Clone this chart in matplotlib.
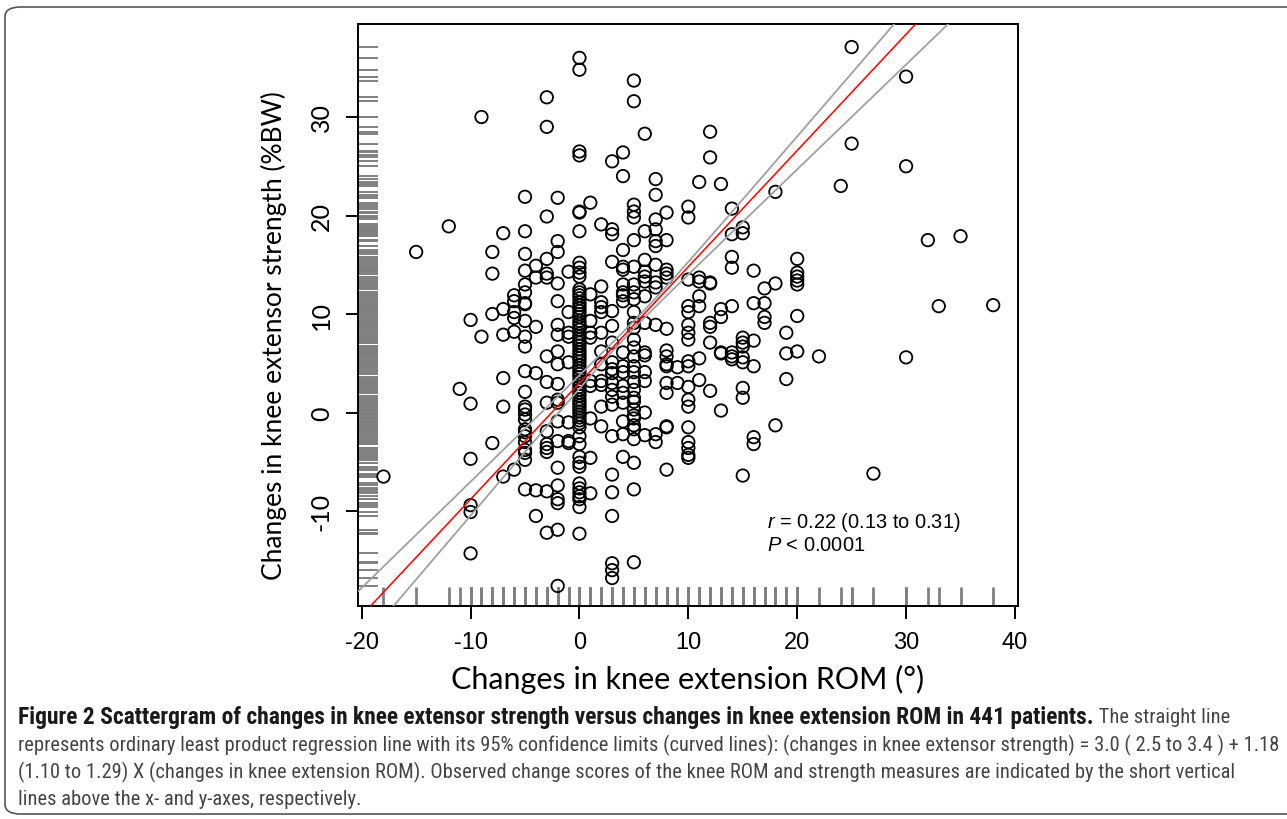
import matplotlib
matplotlib.use("Agg")
import matplotlib.pyplot as plt
import numpy as np
from matplotlib.patches import FancyBboxPatch
from matplotlib import font_manager

plt.rcParams["axes.unicode_minus"] = False
plt.rcParams["mathtext.fontset"] = "custom"
plt.rcParams["mathtext.it"] = "Liberation Sans:italic"
plt.rcParams["mathtext.rm"] = "Liberation Sans"

# knee strength change (%BW) read per knee ROM change column (deg)
s_m18 = [-6.5]
s_m15 = [16.3]
s_m12 = [18.9]
s_m11 = [2.4]
s_m10 = [9.4, 0.9, -4.7, -9.4, -10.1, -14.3]
s_m9 = [30.0, 7.7]
s_m8 = [16.3, 14.1, 10.0, -3.1]
s_m7 = [18.2, 10.5, 7.9, 3.5, 0.6, -6.5]
s_m6 = [11.9, 11.3, 10.2, 9.6, 8.2, -5.8]
s_m5 = [21.9, 18.4, 16.1, 14.4, 13.0, 12.2, 11.0, 11.1, 9.3, 7.7, 6.7, 4.2, 2.1,
        0.6, 0.3, -0.2, -0.7, -1.7, -2.0, -2.4, -3.0, -3.8, -4.1, -4.8, -7.8]
s_m4 = [14.9, 13.7, 8.7, 4.0, -7.9, -10.5]
s_m3 = [32.0, 29.0, 19.9, 15.6, 14.1, 13.7, 5.7, 3.1, 1.0, -1.9, -3.2, -3.6, -4.0,
        -8.0, -12.2]
s_m2 = [21.8, 17.4, 16.3, 13.1, 11.3, 8.9, 7.9, 6.2, 4.9, 2.9, 1.3, 1.0, -0.9, -2.9,
        -5.6, -7.4, -8.8, -9.2, -11.9, -17.6]
s_m1 = [14.3, 10.2, 8.1, 7.7, 5.1, -1.0, -2.9, -3.1]
s_0 = [36.0, 34.8, 26.5, 26.1, 20.4, 20.3, 18.4, 15.2, 14.7, 14.2, 13.8,
       12.5, 12.2, 11.9, 11.6, 11.2, 10.9, 10.6, 10.3, 10.0, 9.7, 9.3, 9.0, 8.7,
       8.4, 8.0, 7.7, 7.4, 7.1, 6.8, 6.4, 6.1, 5.8, 5.5, 5.2, 4.8, 4.5, 4.2, 3.9,
       3.6, 3.2, 2.9, 2.6, 2.3, 2.0, 1.7, 1.3, 1.0, 0.7, 0.4, 0.1, -0.2, -0.5,
       -0.8, -1.1, -1.5,
       -2.4, -3.2, -4.5, -5.1, -5.5, -7.2, -7.7, -8.1, -8.5, -8.8, -9.6, -12.3]
s_1 = [21.3, 12.0, 9.3, 8.1, 7.6, 3.2, 2.7, -0.6, -4.6, -8.2]
s_2 = [19.1, 12.8, 11.2, 10.7, 10.2, 8.1, 6.2, 4.9, 3.2, 2.8, 0.6, -1.4]
s_3 = [25.5, 18.6, 18.1, 15.3, 10.3, 8.8, 7.1, 5.1, 4.4, 4.0, 3.0, 2.3, 1.6, 0.8,
       -2.4, -6.3, -8.1, -10.5, -15.3, -16.0, -16.8]
s_4 = [26.4, 24.0, 16.5, 14.8, 14.5, 13.0, 12.2, 11.9, 11.3, 6.1, 4.7, 4.1, 2.7,
       2.0, 1.0, -0.9, -2.2, -4.5]
s_5 = [33.7, 31.6, 21.1, 20.4, 19.8, 17.5, 14.8, 13.0, 12.2, 11.5, 10.2, 9.1, 8.6,
       7.4, 6.6, 5.7, 4.7, 4.1, 3.1, 2.3, 1.5, 1.1, 0.3, -0.3, -0.6, -1.3, -1.7,
       -2.7, -5.1, -7.8, -15.2]
s_6 = [28.3, 18.4, 15.5, 14.3, 13.8, 13.3, 11.8, 9.1, 6.1, 5.8, 4.1, 3.2, 0.0, -2.3]
s_7 = [23.7, 22.1, 19.6, 18.6, 17.4, 16.9, 15.0, 13.2, 12.7, 8.9, -2.2, -3.0]
s_8 = [20.3, 17.5, 14.5, 14.1, 13.7, 8.5, 6.3, 5.7, 4.9, 4.7, 3.0, 2.0, -1.4, -1.5,
       -5.8]
s_9 = [4.6, 3.0]
s_10 = [20.9, 19.8, 13.5, 10.8, 10.2, 8.9, 8.1, 7.4, 5.2, 4.7, 2.6, 1.3, 0.6, -1.5,
        -3.0, -3.6, -4.3, -4.6]
s_11 = [23.4, 13.7, 13.3, 11.8, 10.8, 5.5, 3.3]
s_12 = [28.5, 25.9, 13.2, 13.1, 9.1, 8.7, 7.1, 2.2]
s_13 = [23.2, 10.5, 9.7, 6.1, 6.0, 0.2]
s_14 = [20.7, 18.1, 15.8, 14.7, 10.8, 6.1, 5.7, 5.4]
s_15 = [18.8, 18.2, 7.6, 7.1, 6.7, 5.6, 5.1, 2.5, 1.5, -6.4]
s_16 = [14.4, 11.1, 7.3, 4.7, -2.5, -3.2]
s_17 = [12.6, 11.1, 9.7, 9.1]
s_18 = [22.4, 13.1, -1.3]
s_19 = [8.1, 6.0, 3.4]
s_20 = [15.6, 14.2, 13.8, 13.4, 13.0, 9.8, 6.2]
s_22 = [5.7]
s_24 = [23.0]
s_25 = [37.1, 27.3]
s_27 = [-6.2]
s_30 = [34.1, 25.0, 5.6]
s_32 = [17.5]
s_33 = [10.8]
s_35 = [17.9]
s_38 = [10.9]

rom_columns = [-18, -15, -12, -11, -10, -9, -8, -7, -6, -5, -4, -3, -2, -1, 0, 1, 2,
               3, 4, 5, 6, 7, 8, 9, 10, 11, 12, 13, 14, 15, 16, 17, 18, 19, 20, 22,
               24, 25, 27, 30, 32, 33, 35, 38]
strength_columns = [s_m18, s_m15, s_m12, s_m11, s_m10, s_m9, s_m8, s_m7, s_m6, s_m5,
                    s_m4, s_m3, s_m2, s_m1, s_0, s_1, s_2, s_3, s_4, s_5, s_6, s_7,
                    s_8, s_9, s_10, s_11, s_12, s_13, s_14, s_15, s_16, s_17, s_18,
                    s_19, s_20, s_22, s_24, s_25, s_27, s_30, s_32, s_33, s_35, s_38]

# regression from the caption: strength = 3.0 + 1.18 * ROM
intercept = 3.0
slope = 1.18
# confidence curve shape
band_center = [6.7, 3.9]
band_growth = [0.104, 0.117]
band_min = 0.35

caption_bold = ("Figure 2 Scattergram of changes in knee extensor strength versus "
                "changes in knee extension ROM in 441 patients.")
caption_lines = [
    " The straight line",
    "represents ordinary least product regression line with its 95% confidence "
    "limits (curved lines): (changes in knee extensor strength) = 3.0 ( 2.5 to 3.4 ) + 1.18",
    "(1.10 to 1.29) X (changes in knee extension ROM). Observed change scores of the "
    "knee ROM and strength measures are indicated by the short vertical",
    "lines above the x- and y-axes, respectively.",
]

rom = np.concatenate([[x] * len(s) for x, s in zip(rom_columns, strength_columns)])
strength = np.concatenate(strength_columns)

W, H = 1287, 820
fig = plt.figure(figsize=(W / 100, H / 100), dpi=100)
ax = fig.add_axes([358 / W, 1 - 607 / H, 660 / W, 582 / H])

ax.scatter(rom, strength, s=80, facecolors="none", edgecolors="black",
           linewidths=1.3, zorder=3)

# rugs
ax.vlines(rom, 0, 0.033, transform=ax.get_xaxis_transform(), color="#808080",
          lw=2.0, zorder=2)
ax.hlines(strength, 0, 0.03, transform=ax.get_yaxis_transform(), color="#808080",
          lw=1.4, zorder=2)

xs = np.linspace(-25, 45, 300)
fit = intercept + slope * xs
upper = fit + np.sqrt(band_min ** 2 + (band_growth[0] * (xs - band_center[0])) ** 2)
lower = fit - np.sqrt(band_min ** 2 + (band_growth[1] * (xs - band_center[1])) ** 2)
ax.plot(xs, upper, color="#a0a0a0", lw=1.3, zorder=4)
ax.plot(xs, lower, color="#a0a0a0", lw=1.3, zorder=4)
ax.plot(xs, fit, color="red", lw=1.1, zorder=5)

ax.set_xlim(-20.34, 40.28)
ax.set_ylim(-19.64, 39.44)
ax.set_xticks([-20, -10, 0, 10, 20, 30, 40])
ax.set_yticks([-10, 0, 10, 20, 30])
for sp in ax.spines.values():
    sp.set_linewidth(1.4)
ax.tick_params(direction="out", length=9, width=1.4, pad=9)
for lab in ax.get_xticklabels():
    lab.set_family("Liberation Sans")
    lab.set_fontsize(17)
for lab in ax.get_yticklabels():
    lab.set_family("Lato")
    lab.set_fontsize(18)
    lab.set_rotation(90)
    lab.set_va("center")

ax.set_xlabel("Changes in knee extension ROM (°)", family="Lato", fontsize=22,
              labelpad=8)
ax.set_ylabel("Changes in knee extensor strength (%BW)", family="Lato",
              fontsize=19)
ax.yaxis.set_label_coords(-0.108, 0.466)

ax.text(0.62, 0.146, r"$r$ = 0.22 (0.13 to 0.31)", transform=ax.transAxes,
        family="Liberation Sans", fontsize=14.4, va="center")
ax.text(0.62, 0.105, r"$P$ < 0.0001", transform=ax.transAxes,
        family="Liberation Sans", fontsize=14.4, va="center")

# caption: pick a narrow face if one is there, then size it to the printed width
names = {f.name for f in font_manager.fontManager.ttflist}
cap_font = "Roboto"
for cand in ["Roboto Condensed", "Open Sans Condensed", "Liberation Sans Narrow",
             "DejaVu Sans Condensed", "Roboto"]:
    if cand in names:
        cap_font = cand
        break

renderer = fig.canvas.get_renderer()
probe = fig.text(0, 0, caption_lines[1], family=cap_font, fontsize=13)
cap_size = 13 * 1250 / probe.get_window_extent(renderer).width
probe.remove()
probe = fig.text(0, 0, caption_bold, family=cap_font, weight="bold", fontsize=13)
bold_size = 13 * 1078 / probe.get_window_extent(renderer).width
probe.remove()

bold = fig.text(18 / W, 1 - 718 / H, caption_bold, family=cap_font, weight="bold",
                fontsize=bold_size, color="#1a1a1a", va="center")
ax.annotate(caption_lines[0], xy=(1, 0.5), xycoords=bold, va="center",
            family=cap_font, fontsize=cap_size, color="#444444",
            annotation_clip=False)
for i, t in enumerate(caption_lines[1:]):
    fig.text(18 / W, 1 - (745 + 27.3 * i) / H, t, family=cap_font, fontsize=cap_size,
             color="#444444", va="center")

frame = FancyBboxPatch((5 / W, 1 - 815 / H), 1330 / W, 807 / H,
                       boxstyle="round,pad=0,rounding_size=0.012",
                       transform=fig.transFigure, fill=False, ec="#555555", lw=1.2)
fig.patches.append(frame)

fig.savefig("out.png", dpi=100)
